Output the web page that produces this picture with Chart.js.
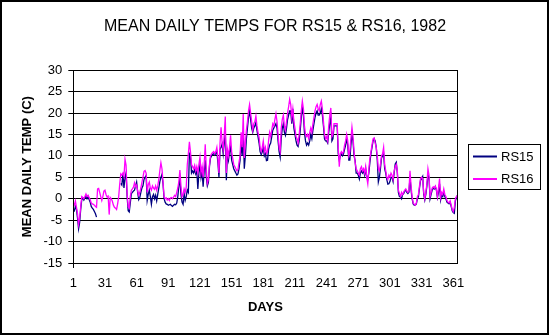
<!DOCTYPE html>
<html>
<head>
<meta charset="utf-8">
<script src="https://cdn.jsdelivr.net/npm/chart.js@4.4.1/dist/chart.umd.min.js"></script>
<style>
  html, body { margin: 0; padding: 0; background: #fff; }
  #chart { display: block; }
</style>
</head>
<body>
<canvas id="chart" width="550" height="336"></canvas>
<script>
// --- Data ---
const days = Array.from({ length: 365 }, (_, i) => i + 1); // category labels 1..365
const tickDays = [1, 31, 61, 91, 121, 151, 181, 211, 241, 271, 301, 331, 361];
const yTicks = [-15, -10, -5, 0, 5, 10, 15, 20, 25, 30];

// RS15, mean daily temp (C); null = no reading
const rs15 = [
  -2.5, -2.8, -1.8, -2.5, -4.5, -7.0, -5.5, -2.5, -0.2, 0.2,
  -0.3, 0.2, 0.6, 0.0, 0.5, -0.2, -0.8, -1.8, -2.2, -2.5,
  -3.0, -3.5, -4.3, null, null, null, null, null, null, null,
  null, null, null, null, null, null, null, null, null, null,
  null, null, null, null, null, 3.6, 3.2, 5.8, 2.5, 5.0,
  6.0, 0.5, -2.8, -3.1, -1.0, 1.2, 1.5, 1.8, 2.0, 3.0,
  3.9, 1.5, -0.2, 0.3, 1.5, 2.5, 3.0, 4.5, 5.0, 5.4,
  -0.4, 1.0, 2.0, 0.5, -1.3, 0.5, 1.0, 0.0, 0.8, -0.5,
  1.0, 2.5, 4.0, 5.0, 5.7, 3.5, 0.0, -0.8, -1.2, -1.3,
  -1.5, -1.4, -1.3, -1.6, -1.8, -1.5, -1.3, -1.4, -1.0, 0.5,
  3.0, 4.7, 1.0, -0.8, -1.3, 1.2, -0.4, 0.5, 2.0, 1.5,
  10.5, 10.0, 6.0, 6.5, 6.0, 6.8, 5.8, 6.5, 2.3, 6.0,
  8.0, 5.0, 6.5, 2.8, 6.5, 9.0, 5.0, 3.0, 3.8, 7.5,
  9.5, 10.0, 10.4, 10.5, 10.2, 10.6, 11.0, 8.5, 5.0, 11.5,
  12.0, 12.8, 10.5, 13.0, 15.5, 4.3, 10.5, 9.0, 11.0, 12.0,
  9.0, 8.0, 7.0, 6.5, 6.0, 5.5, 5.8, 7.0, 9.0, 13.0,
  10.0, 16.0, 7.0, 10.0, 14.0, 16.5, 19.0, 20.5, 18.5, 16.5,
  15.5, 16.5, 17.0, 17.8, 16.0, 14.5, 13.0, 11.0, 10.3, 10.9,
  12.0, 10.0, 10.5, 8.9, 9.0, 11.5, 12.5, 13.0, 14.5, 16.0,
  16.5, 17.0, 17.5, 16.5, 13.5, 11.0, 9.7, 14.0, 16.5, 17.5,
  15.5, 14.8, 16.5, 18.5, 19.5, 20.5, 20.5, 17.5, 21.0, 16.5,
  15.0, 13.5, 12.5, 12.2, 13.5, 16.0, 19.0, 21.5, 19.5, 15.5,
  13.5, 12.5, 13.0, 12.5, 13.5, 15.0, 14.0, 16.0, 17.5, 19.0,
  20.0, 20.5, 19.5, 19.5, 20.0, 21.0, 19.5, 17.0, 14.0, 13.5,
  13.5, 13.0, 15.5, 17.5, 19.0, 13.5, 14.0, 17.0, 17.0, 17.0,
  17.0, 10.5, 9.0, 10.0, 10.5, 10.0, 10.5, 11.5, 12.5, 14.0,
  12.5, 9.0, 9.0, 12.5, 15.0, 13.5, 10.0, 8.9, 6.0, 6.0,
  5.5, 4.6, 6.0, 6.5, 6.0, 6.5, 5.5, 7.0, 5.0, 4.5,
  6.0, 8.5, 10.5, 12.0, 13.5, 14.0, 13.5, 12.0, 9.0, 3.9,
  5.0, 7.0, 9.5, 10.0, 10.5, 7.0, 6.0, 4.5, 3.4, 3.5,
  4.0, 5.0, 5.0, 4.0, 6.0, 8.1, 8.5, 6.0, 1.5, 0.5,
  0.4, 0.0, 1.0, 1.2, 1.8, 2.0, 1.5, 1.2, 1.5, 5.0,
  2.0, 0.0, -1.2, -1.5, -1.5, -1.2, 0.0, 0.5, 2.5, 4.3,
  4.7, 5.2, 1.0, -0.3, 1.0, 3.0, 5.5, 5.0, 0.0, 1.0,
  2.0, 2.5, 2.3, 2.8, 2.0, 0.3, 1.5, 3.5, -0.3, 0.8,
  0.5, 1.5, 0.5, 0.0, -0.8, -1.0, -1.2, -0.8, -1.8, -2.8,
  -3.2, -3.4, -0.5, 0.3, 0.8
];

// RS16, mean daily temp (C)
const rs16 = [
  -1.0, -1.5, -0.5, -2.0, -3.5, -6.0, -4.5, -2.0, 0.5, 0.3,
  0.0, 0.5, 1.1, 0.5, 0.8, 0.3, -0.2, -1.0, -1.2, -1.3,
  -1.5, -1.8, -2.0, 2.3, 2.4, 1.5, 0.5, -0.4, 0.5, 1.8,
  2.0, 1.0, 0.4, 0.6, -3.7, 0.3, 0.0, -0.6, -1.5, -2.0,
  -2.2, -2.5, -1.2, 0.5, 3.5, 5.8, 5.5, 6.0, 5.2, 9.2,
  7.8, 1.0, -1.8, -2.2, 0.5, 2.0, 2.3, 2.7, 3.7, 2.8,
  3.2, 1.8, 0.8, 1.5, 2.5, 3.8, 5.0, 6.4, 6.6, 6.0,
  1.5, 3.3, 3.9, 2.5, 2.0, 3.0, 2.5, 2.2, 3.0, 2.0,
  3.0, 4.5, 6.6, 8.4, 7.0, 4.0, 0.5, 0.0, 0.2, -0.3,
  0.0, -0.4, 0.2, 0.3, 0.0, 0.4, 0.8, 0.5, 1.5, 2.5,
  4.0, 6.7, 3.0, 0.5, 1.0, 2.3, 1.5, 2.7, 8.0, 10.5,
  13.3, 11.0, 8.0, 7.5, 7.0, 7.8, 6.5, 7.5, 6.0, 8.0,
  9.7, 6.0, 7.5, 5.0, 8.0, 12.7, 7.0, 3.6, 4.5, 8.0,
  10.0, 10.5, 10.8, 11.0, 10.5, 11.0, 12.0, 9.5, 6.0, 13.0,
  16.7, 13.0, 11.5, 15.0, 19.2, 6.0, 11.5, 10.0, 12.0, 14.8,
  11.0, 9.5, 8.0, 7.5, 7.0, 6.5, 6.8, 8.5, 10.0, 15.5,
  12.0, 19.8, 9.5, 13.0, 16.0, 18.0, 20.5, 22.0, 20.0, 18.0,
  16.0, 17.5, 18.0, 19.3, 17.0, 15.5, 14.4, 12.0, 11.0, 12.0,
  13.5, 11.0, 12.0, 10.5, 11.0, 13.5, 15.5, 14.5, 16.0, 17.5,
  17.0, 18.5, 19.8, 18.0, 15.0, 12.0, 11.0, 16.5, 18.5, 19.5,
  17.0, 16.0, 18.0, 20.0, 21.5, 23.2, 22.0, 19.0, 21.0, 18.0,
  16.5, 14.5, 14.0, 13.0, 15.0, 17.5, 20.5, 22.8, 21.0, 17.0,
  15.0, 14.5, 15.0, 14.0, 15.5, 16.5, 15.5, 17.5, 19.0, 20.5,
  21.5, 22.0, 21.0, 20.5, 22.0, 22.8, 21.0, 18.0, 15.0, 14.0,
  14.5, 13.5, 17.0, 19.5, 21.2, 14.5, 15.0, 17.5, 17.5, 17.5,
  17.5, 12.0, 7.5, 10.5, 11.0, 10.5, 11.0, 12.5, 13.5, 15.0,
  13.5, 10.0, 11.0, 14.0, 16.7, 14.5, 11.0, 8.5, 7.0, 6.5,
  6.0, 5.5, 7.0, 7.5, 6.5, 7.0, 6.0, 7.5, 5.0, 3.5,
  6.9, 9.5, 11.0, 12.5, 14.0, 14.2, 13.0, 12.0, 10.0, 7.0,
  6.5, 8.0, 10.0, 10.5, 12.0, 8.0, 6.5, 5.0, 4.5, 5.5,
  5.0, 6.0, 5.5, 4.5, 6.5, 7.5, 8.0, 6.5, 2.0, 1.2,
  0.5, 1.5, 1.0, 1.5, 2.0, 2.3, 1.8, 1.5, 2.0, 6.5,
  3.0, 0.5, -1.0, -1.3, -1.5, -1.0, 0.5, 1.0, 3.0, 4.7,
  5.0, 4.7, 1.5, 0.0, 1.5, 3.5, 7.0, 5.5, 0.5, 1.5,
  2.5, 2.8, 2.5, 3.0, 2.2, 0.5, 2.5, 4.7, 0.3, 1.5,
  1.0, 2.3, 1.0, 0.5, -0.4, -0.8, -1.0, -0.5, -1.5, -2.5,
  -3.0, -2.0, 0.0, 0.5, 0.8
];

const FONT = 'Arial, "Liberation Sans", sans-serif';
Chart.defaults.font.family = FONT;
Chart.defaults.color = "#000";

// --- Frame, plot border and boxed legend ---
const frame = {
  id: "frame",
  beforeDraw(chart) {
    const c = chart.ctx;
    c.save();
    c.fillStyle = "#fff";
    c.fillRect(0, 0, chart.width, chart.height);
    c.restore();
  },
  afterDraw(chart) {
    const c = chart.ctx;
    const a = chart.chartArea;
    c.save();
    c.strokeStyle = "#000";
    c.lineWidth = 1;
    c.strokeRect(Math.round(a.left) + 0.5, Math.round(a.top) + 0.5,
      Math.round(a.right - a.left), Math.round(a.bottom - a.top));

    // outer border
    c.lineWidth = 2;
    c.strokeRect(1, 1, 547, 333);

    // legend box
    c.lineWidth = 1;
    c.strokeRect(468.5, 144.5, 72, 45);
    c.font = "13px " + FONT;
    c.textBaseline = "middle";
    c.fillStyle = "#000";
    chart.data.datasets.forEach((ds, i) => {
      const y = 156.5 + i * 22.5;
      c.strokeStyle = ds.borderColor;
      c.lineWidth = 2;
      c.beginPath();
      c.moveTo(473, y);
      c.lineTo(497, y);
      c.stroke();
      c.fillText(ds.label, 501, y + 0.5);
    });
    c.restore();
  },
};

// --- Chart ---
const chart = new Chart(document.getElementById("chart"), {
  type: "line",
  data: {
    labels: days,
    datasets: [
      { label: "RS15", data: rs15, borderColor: "#000080", order: 2 },
      { label: "RS16", data: rs16, borderColor: "#FF00FF", order: 1 },
    ],
  },
  options: {
    responsive: false,
    animation: false,
    devicePixelRatio: 1,
    spanGaps: false,
    elements: {
      point: { radius: 0 },
      line: { borderWidth: 1.3, tension: 0 },
    },
    layout: { padding: 0 },
    plugins: {
      legend: { display: false },
      tooltip: { enabled: false },
      title: {
        display: true,
        text: "MEAN DAILY TEMPS FOR RS15 & RS16, 1982",
        color: "#000",
        font: { size: 16, weight: "normal" },
        padding: { top: 17, bottom: 34 },
      },
    },
    scales: {
      x: {
        type: "category",
        offset: false,
        afterFit: (s) => { s.height = 73; },
        border: { display: true, color: "#000", width: 1 },
        grid: {
          drawOnChartArea: false,
          tickLength: 5,
          color: (c) => (tickDays.includes(days[c.index]) ? "#000" : "rgba(0,0,0,0)"),
        },
        ticks: {
          autoSkip: false,
          maxRotation: 0,
          minRotation: 0,
          padding: 7.5,
          font: { size: 13 },
          callback: (v, i) => (tickDays.includes(days[i]) ? String(days[i]) : null),
        },
        title: {
          display: true,
          text: "DAYS",
          font: { size: 13, weight: "bold" },
          padding: { top: 0, bottom: 21 },
        },
      },
      y: {
        min: yTicks[0],
        max: yTicks[yTicks.length - 1],
        afterFit: (s) => { s.width = 73.3; },
        afterBuildTicks: (s) => { s.ticks = yTicks.map((v) => ({ value: v })); },
        border: { display: true, color: "#000", width: 1 },
        grid: { color: "#000", lineWidth: 1, tickLength: 5 },
        ticks: { padding: 6, font: { size: 13 } },
        title: {
          display: true,
          text: "MEAN DAILY TEMP (C)",
          font: { size: 13, weight: "bold" },
          padding: { top: 19.7, bottom: 0 },
        },
      },
      // empty right-hand axis that only reserves room for the legend
      legendSpace: {
        type: "linear",
        position: "right",
        afterFit: (s) => { s.width = 92.5; },
        grid: { display: false },
        border: { display: false },
        ticks: { display: false },
      },
    },
  },
  plugins: [frame],
});
</script>
</body>
</html>
